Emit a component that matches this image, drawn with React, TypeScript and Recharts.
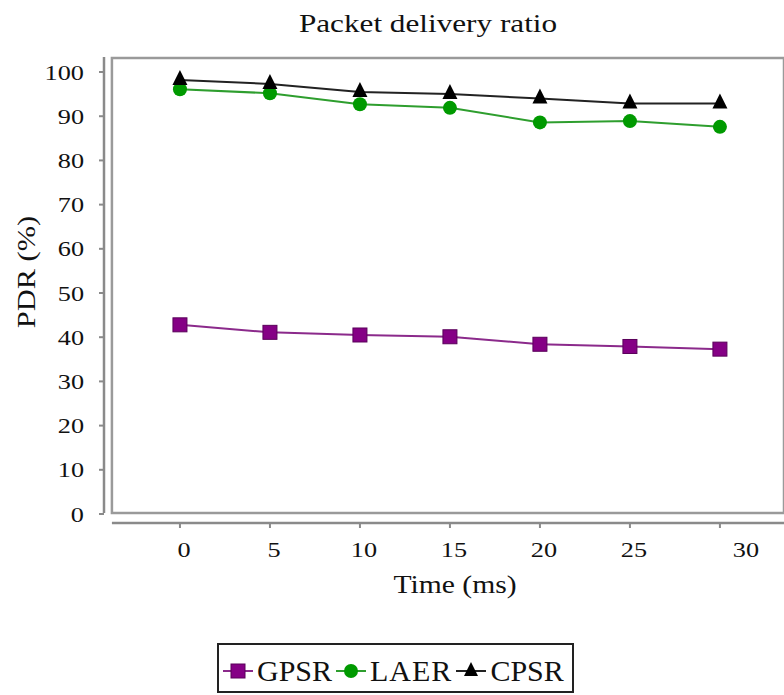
import React from "react";
import {
  LineChart,
  Line,
  XAxis,
  YAxis,
  ReferenceArea,
  ReferenceLine,
  Legend,
} from "recharts";

// values
const times = [0, 5, 10, 15, 20, 25, 30];
const gpsr = [42.8, 41.1, 40.5, 40.1, 38.4, 37.9, 37.3];
const laer = [96.1, 95.2, 92.7, 91.9, 88.6, 88.9, 87.6];
const cpsr = [98.2, 97.3, 95.5, 95.0, 94.0, 92.9, 92.9];
const yTicks = [0, 10, 20, 30, 40, 50, 60, 70, 80, 90, 100];
const xTicks = [0, 5, 10, 15, 20, 25, 30];

const data = times.map((t, i) => ({
  time: t,
  GPSR: gpsr[i],
  LAER: laer[i],
  CPSR: cpsr[i],
}));

const FONT = "Liberation Serif";
const X_DOMAIN: [number, number] = [-4.22, 33.56];
const Y_DOMAIN: [number, number] = [-2.04, 103.4];

const COLORS = {
  GPSR: "#800080",
  LAER: "#009a00",
  CPSR: "#000000",
};

function SquareDot(props: any) {
  const { cx, cy, index } = props;
  return (
    <rect
      key={`sq-${index}`}
      x={cx - 7}
      y={cy - 7}
      width={14}
      height={14}
      fill="#850085"
      stroke="#5a005a"
      strokeWidth={1}
    />
  );
}

function TriangleDot(props: any) {
  const { cx, cy, index } = props;
  return (
    <path
      key={`tri-${index}`}
      d={`M${cx},${cy - 10} L${cx + 7.5},${cy + 5} L${cx - 7.5},${cy + 5} Z`}
      fill="#000"
    />
  );
}

function YTick({ x, y, payload }: any) {
  return (
    <text
      transform={`translate(${x},${y}) scale(1.25,1)`}
      textAnchor="end"
      dy="0.36em"
      style={{ fontFamily: FONT }}
      fontSize={21}
      fill="#111"
    >
      {payload.value}
    </text>
  );
}

function XTick({ x, y, payload, index }: any) {
  // last label sits a little right of its tick in the original
  const shift = index === xTicks.length - 1 ? 26 : 4;
  return (
    <text
      transform={`translate(${x + shift},${y}) scale(1.25,1)`}
      textAnchor="middle"
      dy="0.71em"
      style={{ fontFamily: FONT }}
      fontSize={21}
      fill="#111"
    >
      {payload.value}
    </text>
  );
}

function XLabel({ viewBox }: any) {
  const cx = viewBox.x + viewBox.width / 2 + 11;
  return (
    <text
      transform={`translate(${cx},${viewBox.y + 70}) scale(1.14,1)`}
      textAnchor="middle"
      style={{ fontFamily: FONT }}
      fontSize={26}
      fill="#111"
    >
      Time (ms)
    </text>
  );
}

function YLabel() {
  return (
    <text
      transform="translate(35,272) rotate(-90) scale(1.17,1)"
      textAnchor="middle"
      style={{ fontFamily: FONT }}
      fontSize={26}
      fill="#111"
    >
      PDR (%)
    </text>
  );
}

function LegendIcon({ name }: { name: string }) {
  const color = name === "GPSR" ? "#8b2a8b" : name === "LAER" ? "#2e9e2e" : "#222";
  return (
    <svg width={30} height={20} style={{ display: "block" }}>
      <line x1={0} y1={10} x2={30} y2={10} stroke={color} strokeWidth={2} />
      {name === "GPSR" && (
        <rect x={8} y={3} width={14} height={14} fill="#850085" stroke="#5a005a" />
      )}
      {name === "LAER" && <circle cx={15} cy={10} r={7} fill="#009a00" />}
      {name === "CPSR" && <path d="M15,1 L22,15 L8,15 Z" fill="#000" />}
    </svg>
  );
}

function LegendBox() {
  const names = ["GPSR", "LAER", "CPSR"];
  return (
    <div
      style={{
        boxSizing: "border-box",
        width: 357,
        height: 50,
        border: "2px solid #222",
        display: "flex",
        alignItems: "center",
        paddingLeft: 4,
        paddingTop: 6,
        fontFamily: FONT,
        fontSize: 30,
        color: "#111",
        background: "#fff",
      }}
    >
      {names.map((n) => (
        <div key={n} style={{ display: "flex", alignItems: "center" }}>
          <LegendIcon name={n} />
          <span
            style={{
              marginLeft: 4,
              marginRight: 4,
              letterSpacing: n === "LAER" ? 1 : 0,
            }}
          >
            {n}
          </span>
        </div>
      ))}
    </div>
  );
}

export default function App() {
  return (
    <div
      style={{
        position: "absolute",
        left: 0,
        top: 0,
        width: 784,
        height: 695,
        background: "#fff",
        overflow: "hidden",
      }}
    >
      <div
        style={{
          position: "absolute",
          left: 0,
          width: 856,
          top: 9,
          textAlign: "center",
          fontFamily: FONT,
          fontSize: 26,
          color: "#111",
          transform: "scaleX(1.2)",
          transformOrigin: "428px 0",
        }}
      >
        Packet delivery ratio
      </div>
      <LineChart
        width={784}
        height={695}
        data={data}
        margin={{ top: 57, right: 0, left: 0, bottom: 47 }}
      >
        <ReferenceArea
          x1={-3.78}
          x2={33.56}
          y1={0.2}
          y2={103.2}
          fill="#fff"
          fillOpacity={0}
          stroke="#9a9a9a"
          strokeWidth={2.5}
          ifOverflow="visible"
        />
        <ReferenceLine
          segment={[
            { x: X_DOMAIN[0], y: 0.2 },
            { x: X_DOMAIN[0], y: 103.4 },
          ]}
          stroke="#8a8a8a"
          strokeWidth={2.5}
          ifOverflow="visible"
        />
        <ReferenceLine
          segment={[
            { x: -3.78, y: Y_DOMAIN[0] },
            { x: X_DOMAIN[1], y: Y_DOMAIN[0] },
          ]}
          stroke="#8a8a8a"
          strokeWidth={2.5}
          ifOverflow="visible"
        />
        <XAxis
          dataKey="time"
          type="number"
          domain={X_DOMAIN}
          ticks={xTicks}
          allowDataOverflow
          axisLine={false}
          tickLine={{ stroke: "#8a8a8a", strokeWidth: 2 }}
          tickSize={5}
          tickMargin={14}
          height={75}
          tick={<XTick />}
          label={<XLabel />}
        />
        <YAxis
          type="number"
          domain={Y_DOMAIN}
          ticks={yTicks}
          allowDataOverflow
          axisLine={false}
          tickLine={{ stroke: "#8a8a8a", strokeWidth: 2 }}
          tickSize={5}
          tickMargin={15}
          width={104}
          tick={<YTick />}
          label={<YLabel />}
        />
        <Legend
          verticalAlign="bottom"
          content={() => <LegendBox />}
          wrapperStyle={{ left: 217, top: 643, width: 357, height: 50 }}
        />
        <Line
          type="linear"
          dataKey="GPSR"
          stroke="#8b2a8b"
          strokeWidth={2}
          dot={<SquareDot />}
          isAnimationActive={false}
        />
        <Line
          type="linear"
          dataKey="LAER"
          stroke="#2e9e2e"
          strokeWidth={2}
          dot={{ r: 7, fill: COLORS.LAER, stroke: COLORS.LAER, strokeWidth: 0 }}
          isAnimationActive={false}
        />
        <Line
          type="linear"
          dataKey="CPSR"
          stroke="#222"
          strokeWidth={2}
          dot={<TriangleDot />}
          isAnimationActive={false}
        />
      </LineChart>
    </div>
  );
}
